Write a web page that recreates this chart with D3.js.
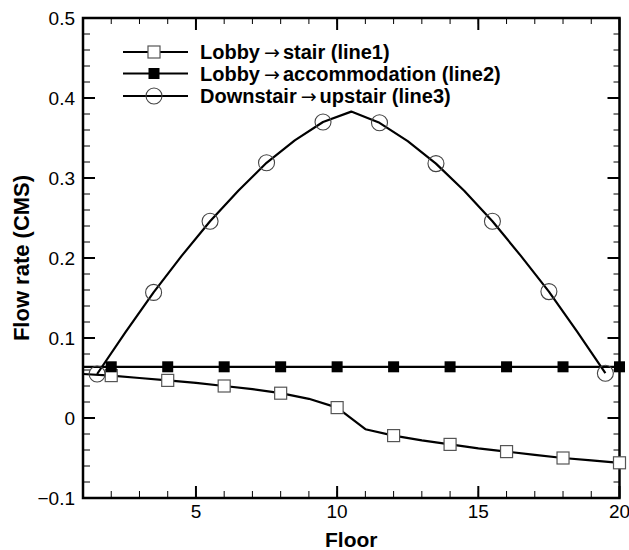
<!DOCTYPE html>
<html>
<head>
<meta charset="utf-8">
<script src="https://cdn.jsdelivr.net/npm/d3@7"></script>
<style>
  body { margin: 0; background: #fff; }
  text { font-family: Arial, "Liberation Sans", sans-serif; fill: #000; }
</style>
</head>
<body>
<svg id="chart" width="629" height="550"></svg>
<script>
// floors for line1 / line2 (markers on every other floor)
var floors = [1, 2, 3, 4, 5, 6, 7, 8, 9, 10, 11, 12, 13, 14, 15, 16, 17, 18, 19, 20];
var line1Values = [0.055, 0.053, 0.050, 0.047, 0.044, 0.040, 0.036, 0.031, 0.024, 0.013,
                   -0.014, -0.022, -0.028, -0.033, -0.038, -0.042, -0.046, -0.050, -0.053, -0.056];
var line2Values = [0.064, 0.064, 0.064, 0.064, 0.064, 0.064, 0.064, 0.064, 0.064, 0.064,
                   0.064, 0.064, 0.064, 0.064, 0.064, 0.064, 0.064, 0.064, 0.064, 0.064];
// line3 sits on half floors
var line3Floors = [1.5, 2.5, 3.5, 4.5, 5.5, 6.5, 7.5, 8.5, 9.5, 10.5,
                   11.5, 12.5, 13.5, 14.5, 15.5, 16.5, 17.5, 18.5, 19.5];
var line3Values = [0.055, 0.107, 0.157, 0.203, 0.246, 0.284, 0.319, 0.347, 0.370, 0.383,
                   0.369, 0.346, 0.318, 0.284, 0.246, 0.203, 0.158, 0.108, 0.056];

var xTicks = [5, 10, 15, 20];
var yTicks = [-0.1, 0, 0.1, 0.2, 0.3, 0.4, 0.5];
var seriesNames = ["line1", "line2", "line3"];
var legendLabels = [
	["Lobby", "stair (line1)"],
	["Lobby", "accommodation (line2)"],
	["Downstair", "upstair (line3)"]
];

var svg = d3.select("#chart");
var margin = {top: 18, right: 9.5, bottom: 52, left: 83};
var width = 629 - margin.left - margin.right,
    height = 550 - margin.top - margin.bottom;

var g = svg.append("g").attr("transform", "translate(" + margin.left + "," + margin.top + ")");

var x = d3.scaleLinear().domain([1, 20]).range([0, width]);
var y = d3.scaleLinear().domain([-0.1, 0.5]).range([height, 0]);

var minorX = d3.range(1, 21);
var minorY = d3.range(-0.1, 0.5001, 0.02);

// ticks point inward on all four sides
function drawTicks() {
	var t = g.append("g").attr("stroke", "#000");
	// bottom + top, minor
	minorX.forEach(function(v) {
		t.append("line").attr("x1", x(v)).attr("x2", x(v)).attr("y1", height).attr("y2", height - 7).attr("stroke-width", 1);
		t.append("line").attr("x1", x(v)).attr("x2", x(v)).attr("y1", 0).attr("y2", 6).attr("stroke-width", 1);
	});
	xTicks.forEach(function(v) {
		t.append("line").attr("x1", x(v)).attr("x2", x(v)).attr("y1", height).attr("y2", height - 12).attr("stroke-width", 2);
		t.append("line").attr("x1", x(v)).attr("x2", x(v)).attr("y1", 0).attr("y2", 12).attr("stroke-width", 2);
	});
	minorY.forEach(function(v) {
		t.append("line").attr("x1", 0).attr("x2", 7).attr("y1", y(v)).attr("y2", y(v)).attr("stroke-width", 1);
		t.append("line").attr("x1", width).attr("x2", width - 6).attr("y1", y(v)).attr("y2", y(v)).attr("stroke-width", 1);
	});
	yTicks.forEach(function(v) {
		t.append("line").attr("x1", 0).attr("x2", 12).attr("y1", y(v)).attr("y2", y(v)).attr("stroke-width", 2);
		t.append("line").attr("x1", width).attr("x2", width - 12).attr("y1", y(v)).attr("y2", y(v)).attr("stroke-width", 2);
	});
}
drawTicks();

// tick labels
g.append("g").selectAll("text")
	.data(xTicks)
	.enter().append("text")
	.attr("x", function(d) { return x(d); })
	.attr("y", height + 20)
	.attr("text-anchor", "middle")
	.style("font-size", "19px")
	.text(function(d) { return d; });

g.append("g").selectAll("text")
	.data(yTicks)
	.enter().append("text")
	.attr("x", -8)
	.attr("y", function(d) { return y(d) + 7; })
	.attr("text-anchor", "end")
	.style("font-size", "19px")
	.text(function(d) { return d3.format("")(+d.toFixed(1)); });

// frame
g.append("rect")
	.attr("width", width).attr("height", height)
	.attr("fill", "none").attr("stroke", "#000").attr("stroke-width", 2.5);

// lines
var lineGen = d3.line()
	.x(function(d) { return x(d[0]); })
	.y(function(d) { return y(d[1]); });

var series1 = d3.zip(floors, line1Values);
var series2 = d3.zip(floors, line2Values);
var series3 = d3.zip(line3Floors, line3Values);

[series1, series2, series3].forEach(function(s) {
	g.append("path")
		.datum(s)
		.attr("d", lineGen)
		.attr("fill", "none")
		.attr("stroke", "#000")
		.attr("stroke-width", 2.2)
		.attr("stroke-linejoin", "round");
});

function drawMarker(sel, kind, cx, cy) {
	if (kind === "line1") {
		sel.append("rect").attr("x", cx - 6).attr("y", cy - 6).attr("width", 12).attr("height", 12)
			.attr("fill", "#fff").attr("stroke", "#555").attr("stroke-width", 1.2);
	} else if (kind === "line2") {
		sel.append("rect").attr("x", cx - 5.5).attr("y", cy - 5.5).attr("width", 11).attr("height", 11)
			.attr("fill", "#000");
	} else {
		sel.append("circle").attr("cx", cx).attr("cy", cy).attr("r", 8)
			.attr("fill", "none").attr("stroke", "#444").attr("stroke-width", 1.1);
	}
}

var markers = g.append("g");
series1.forEach(function(d, i) { if (i % 2 === 1) drawMarker(markers, "line1", x(d[0]), y(d[1])); });
series2.forEach(function(d, i) { if (i % 2 === 1) drawMarker(markers, "line2", x(d[0]), y(d[1])); });
series3.forEach(function(d, i) { if (i % 2 === 0) drawMarker(markers, "line3", x(d[0]), y(d[1])); });

// legend
var legend = svg.append("g");
var legendY = [52, 73.5, 96];
seriesNames.forEach(function(name, i) {
	var row = legend.append("g");
	row.append("line").attr("x1", 123).attr("x2", 188).attr("y1", legendY[i]).attr("y2", legendY[i])
		.attr("stroke", "#000").attr("stroke-width", 2.2);
	drawMarker(row, name, 154, legendY[i]);
	var txt = row.append("text")
		.attr("x", 200).attr("y", legendY[i] + 7)
		.style("font-size", "20px").style("font-weight", "bold");
	txt.append("tspan").text(legendLabels[i][0]);
	// arrow in a thin font, like the Symbol glyph
	txt.append("tspan")
		.style("font-weight", "normal").style("font-family", "'DejaVu Sans'").style("font-size", "19px")
		.attr("dx", 4).text("\u2192");
	txt.append("tspan").attr("dx", 3).text(legendLabels[i][1]);
});

// axis titles
svg.append("text")
	.attr("x", margin.left + width / 2).attr("y", 547)
	.attr("text-anchor", "middle")
	.style("font-size", "21px").style("font-weight", "bold")
	.text("Floor");

svg.append("text")
	.attr("transform", "translate(29," + (margin.top + height / 2) + ") rotate(-90)")
	.attr("text-anchor", "middle")
	.style("font-size", "22px").style("font-weight", "bold")
	.text("Flow rate (CMS)");
</script>
</body>
</html>
